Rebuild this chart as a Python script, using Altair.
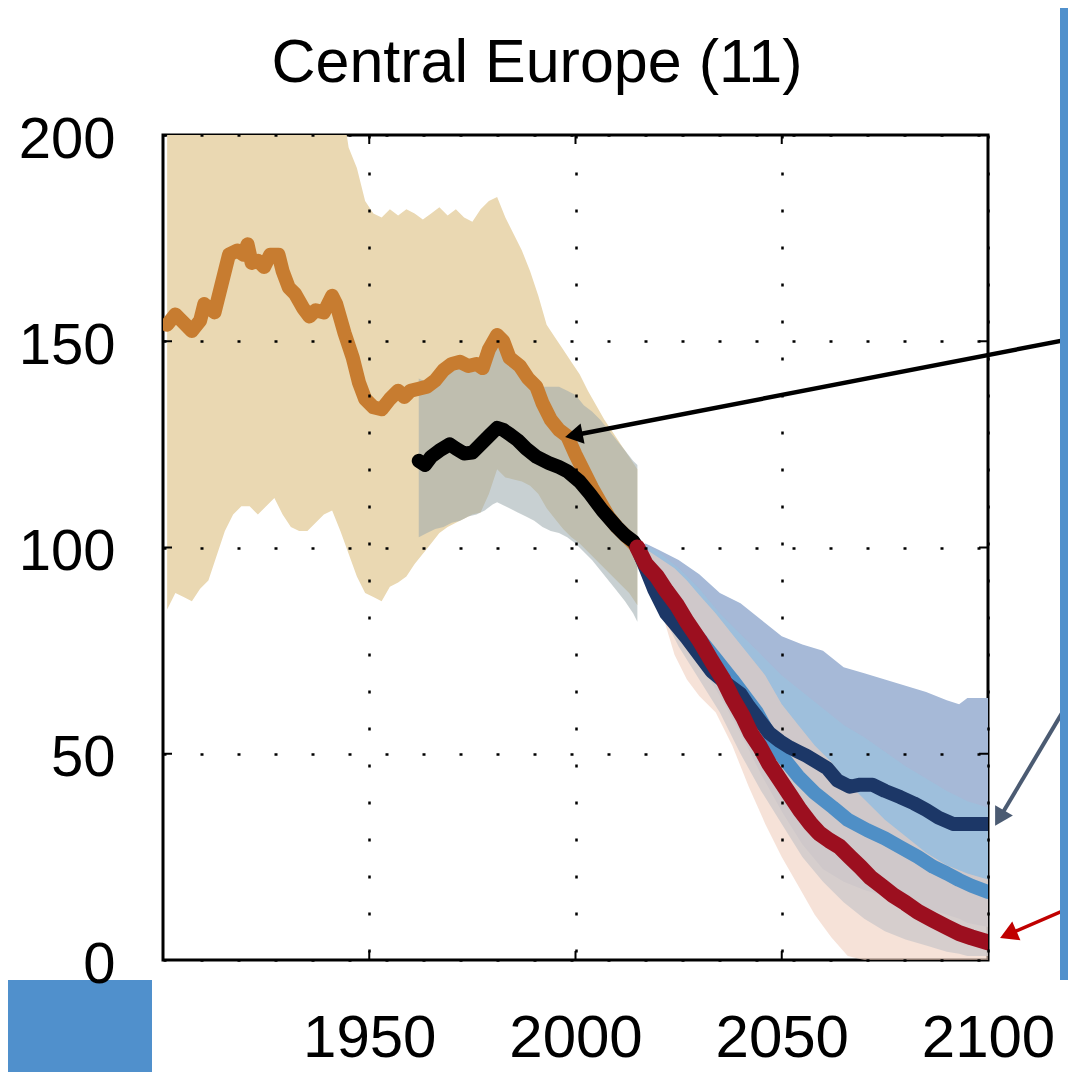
import altair as alt
import pandas as pd

FONT = "Liberation Sans, Arial, Helvetica, sans-serif"
TITLE = "Central Europe (11)"
X_TICKS = [1950, 2000, 2050, 2100]
Y_TICKS = [0, 50, 100, 150, 200]
INNER_X_TICKS = [1950, 2000, 2050]
INNER_Y_TICKS = [50, 100, 150]

# ---- historical reconstruction (orange) ----
orange_years = [1901, 1903, 1904.5, 1907, 1909, 1910, 1912.5, 1914, 1916, 1918, 1919.5, 1920.5, 1921.5,
                1923, 1924.5, 1926, 1928, 1929, 1930.5, 1932, 1934, 1935.5, 1937, 1939, 1941, 1942,
                1944, 1946, 1947.5, 1949, 1951, 1953, 1955, 1957, 1958.5, 1960, 1962, 1964, 1966,
                1968, 1970, 1972, 1974, 1976, 1977.5, 1979, 1981, 1982.5, 1984, 1986.5, 1988.5,
                1990.5, 1992, 1994, 1996, 1998, 2000, 2002, 2004, 2006, 2008, 2010, 2012, 2014, 2015]
orange_vals = [154, 156.5, 155, 152.5, 155, 159, 157, 163, 171, 172, 171, 173.5, 169,
               169.5, 168, 171, 171, 167, 163, 161.5, 158, 156, 157.5, 157, 161, 159,
               152, 146, 140, 136, 134, 133.5, 136, 138, 136.5, 138, 138.5, 139, 140.5,
               143, 144.5, 145, 144, 144.5, 143.5, 148, 151.5, 150, 146, 144, 141,
               139, 135, 131, 128.5, 127, 122.5, 118.5, 114.5, 111, 107.5, 105, 103, 101, 100]

tan_years = [1901, 1903, 1905, 1907, 1909, 1911, 1913, 1915, 1917, 1919, 1921, 1923, 1925, 1927,
             1929, 1931, 1933, 1935, 1937, 1939, 1941, 1943, 1945, 1947, 1949, 1951, 1953, 1955,
             1957, 1959, 1961, 1963, 1965, 1967, 1969, 1971, 1973, 1975, 1977, 1979, 1981, 1983,
             1985, 1987, 1989, 1991, 1993, 1995, 1997, 1999, 2001, 2003, 2005, 2007, 2009, 2011,
             2013, 2015]
tan_hi = [210] * 22 + [197, 192, 184, 181, 180, 182, 180.5, 182, 181, 179.5, 181, 182.5, 180.5,
                       182, 180, 179, 182, 184, 185, 180, 176, 172, 167, 161, 154, 151, 148, 145,
                       142, 138, 134.5, 131, 128, 125, 122, 119]
tan_lo = [85, 89, 88, 87, 90, 92, 98, 104, 108, 110, 110, 108, 110, 112,
          108, 105, 104, 104, 106, 108, 109, 104, 98.5, 93, 89, 88, 87, 90.5,
          91.5, 93, 96, 98.5, 101, 103.5, 105, 106, 107, 108, 108.5, 113, 119, 117,
          116.5, 116, 115, 113, 109.5, 107, 104.5, 102.5, 101, 99, 97, 95, 93, 91,
          89, 86]

# ---- second reconstruction (black) ----
black_years = [1962, 1963.5, 1965, 1967, 1969.5, 1971, 1973, 1975, 1977.5, 1979.5, 1981, 1982.5,
               1984, 1986, 1988, 1990.5, 1993.5, 1996, 1998, 2001, 2003.5, 2006.5, 2010, 2012,
               2014, 2015]
black_vals = [121, 120, 122, 123.5, 125, 124, 122.8, 123, 125.5, 127.5, 129, 128.5,
              127.5, 126, 124, 122, 120.5, 119.5, 118.5, 116, 113, 109, 105, 103,
              101.5, 100]

gray_years = [1962, 1964, 1966, 1968, 1970, 1972, 1974, 1976, 1978, 1980, 1981, 1982, 1984, 1986,
              1988, 1990, 1992, 1994, 1996, 1998, 2000, 2002, 2004, 2006, 2008, 2010, 2012, 2014,
              2015]
gray_hi = [141, 140, 141, 142.5, 143, 144, 144, 144.5, 145, 147, 149, 147.5, 145, 143,
           141, 140, 139, 139, 139, 138, 137, 134.5, 133, 131, 128.5, 126, 123.5, 121, 120]
gray_lo = [102.5, 103.5, 104.5, 105, 106, 106.5, 107.5, 108, 109, 110.5, 111, 110.5, 109.5, 108.5,
           107.5, 106.5, 105, 104, 103.5, 102.5, 101, 99, 97, 94.5, 92, 89.5, 87, 84, 82]

# ---- projections ----
red_years = [2015, 2017, 2019.7, 2022, 2024.6, 2027, 2030, 2033, 2035.8, 2038, 2040.6, 2042.5,
             2044.7, 2047, 2049.6, 2052, 2054.4, 2057, 2059, 2061.5, 2064, 2066.5, 2069, 2071.5,
             2074.5, 2077, 2080, 2083, 2086.7, 2090, 2093, 2096, 2100]
red_vals = [100, 96, 93, 89.5, 86, 82, 77.6, 72.5, 68, 63.5, 59, 55,
            51.7, 47.5, 43.6, 40, 36.4, 33, 30.8, 29, 27.5, 25, 22.6, 20,
            17.7, 15.7, 13.8, 11.7, 9.7, 8, 6.5, 5.5, 4.3]

mid_years = [2015, 2016, 2019, 2022, 2026, 2030, 2034, 2038, 2041, 2044, 2047, 2049.6, 2052,
             2054, 2058, 2062.4, 2066, 2070.7, 2075, 2078.7, 2083, 2086.7, 2090, 2093, 2096, 2100]
mid_vals = [100, 97.5, 92, 88, 83, 78, 73, 68, 64, 60, 54.5, 50, 47,
            44.5, 40.5, 37, 34, 31.5, 29.5, 27.4, 25, 22.6, 21, 19.4, 18, 16.5]

low_years = [2015, 2017, 2019, 2022, 2024.5, 2027, 2030, 2033, 2036, 2040, 2042, 2044.7, 2047,
             2049.6, 2052, 2054, 2056, 2058.5, 2061, 2063.5, 2066.5, 2069, 2072, 2075, 2078.7,
             2082, 2085, 2088, 2091.5, 2095, 2100]
low_vals = [100, 95, 90, 84, 81, 78, 74, 70, 67.5, 64.5, 61.5, 58, 55,
            53, 51.5, 50.5, 49.5, 48, 46.5, 43.5, 42, 42.5, 42.5, 41, 39.5,
            38, 36.4, 34.5, 33, 33, 33]

proj_years = [2015, 2017, 2020, 2025, 2030, 2035, 2040, 2045, 2050, 2055, 2060, 2065, 2070,
              2075, 2080, 2085, 2090, 2093, 2095, 2100]
low_band_hi = [100, 101, 99.5, 97, 93.5, 89, 86.5, 82.5, 78.5, 76.5, 75, 71, 69.5,
               68, 66.5, 65, 63, 62, 63.5, 63.5]
low_band_lo = [100, 95, 88, 79, 72, 64, 55, 45, 36, 28, 22, 19, 17,
               15.5, 14, 12.5, 11, 10, 9, 8]
mid_band_hi = [100, 100.5, 99, 95, 90, 84, 79, 74, 69, 65, 61, 57, 54,
               50.5, 47, 44, 41, 39.5, 38.5, 37]
mid_band_lo = [100, 94, 86, 76, 68, 60, 50, 41, 33, 25, 19, 14, 10,
               7, 5, 3.5, 2, 1.5, 1, 1]

red_band_years = [2015, 2018, 2021, 2024, 2027, 2030, 2034, 2038, 2042, 2046, 2050, 2054, 2058,
                  2062, 2066, 2070, 2075, 2080, 2085, 2090, 2095, 2100]
red_band_hi = [100, 99, 97, 95, 92, 88.5, 84, 79, 74, 69, 62, 57, 52,
               48, 43, 39, 34, 30, 26, 23, 21, 19.5]
red_band_lo = [100, 92, 84, 74, 68, 64, 60, 52, 42, 33, 25, 18, 11,
               5.5, 1, 0, 0, 0, 0, 0, 0, 0]

# ---- annotation arrows (data units) ----
arrow_x = [2121.3, 2121.3, 2121.3]
arrow_y = [150.8, 65.5, 13.3]
arrow_x2 = [1999.6, 2102.8, 2104.9]
arrow_y2 = [127.2, 34.4, 6.2]
arrow_angle = [259, 210, 246.5]
arrow_color = ["#000000", "#4B5B72", "#C00000"]
arrow_width = [4.5, 4, 3.5]

BLUE = "#5090CC"

x_scale = alt.Scale(domain=[1900, 2100], nice=False, zero=False)
y_scale = alt.Scale(domain=[0, 200], nice=False, zero=False)

grid_kw = dict(grid=True, gridDash=[3, 34], gridColor="black", gridWidth=2.5, gridOpacity=1,
               ticks=False, tickSize=0, domain=False, labelFont=FONT, labelColor="black",
               title=None, zindex=1, format="d", labelFlush=False, labelOverlap=False)
x_axis = alt.Axis(values=X_TICKS, labelFontSize=60, labelPadding=96,
                  labelBaseline="alphabetic", **grid_kw)
y_axis = alt.Axis(values=Y_TICKS, labelFontSize=58, labelPadding=48, labelOffset=5, **grid_kw)


def X(field):
    return alt.X(field, type="quantitative", scale=x_scale, axis=x_axis)


def Y(field):
    return alt.Y(field, type="quantitative", scale=y_scale, axis=y_axis)


def band(years, lo, hi, color, opacity):
    df = pd.DataFrame({"year": years, "lo": lo, "hi": hi})
    return alt.Chart(df).mark_area(color=color, opacity=opacity, clip=True).encode(
        x=X("year"), y=Y("hi"), y2="lo")


def line(years, vals, color, width):
    df = pd.DataFrame({"year": years, "value": vals})
    return alt.Chart(df).mark_line(color=color, strokeWidth=width, strokeJoin="round",
                                   strokeCap="round", clip=True).encode(
        x=X("year"), y=Y("value"))


layers = [
    band(tan_years, tan_lo, tan_hi, "#EAD8B2", 1.0),
    band(gray_years, gray_lo, gray_hi, "#9BA9AD", 0.55),
    band(proj_years, low_band_lo, low_band_hi, "#A6B9D7", 1.0),
    band(proj_years, mid_band_lo, mid_band_hi, "#9CC1DD", 0.8),
    band(red_band_years, red_band_lo, red_band_hi, "#F0CFBE", 0.6),
    line(orange_years, orange_vals, "#C77C30", 14),
    line(black_years, black_vals, "#000000", 14),
    line(mid_years, mid_vals, "#4F8FC6", 14),
    line(low_years, low_vals, "#1C3767", 14),
    line(red_years, red_vals, "#9C0F1F", 16),
]

# inward ticks
xt = pd.DataFrame({"year": INNER_X_TICKS})
yt = pd.DataFrame({"value": INNER_Y_TICKS})
layers += [
    alt.Chart(xt).mark_rule(color="black", strokeWidth=2).encode(
        x=X("year"), y=alt.value(825), y2=alt.value(816)),
    alt.Chart(xt).mark_rule(color="black", strokeWidth=2).encode(
        x=X("year"), y=alt.value(0), y2=alt.value(9)),
    alt.Chart(yt).mark_rule(color="black", strokeWidth=2).encode(
        y=Y("value"), x=alt.value(0), x2=alt.value(9)),
    alt.Chart(yt).mark_rule(color="black", strokeWidth=2).encode(
        y=Y("value"), x=alt.value(816), x2=alt.value(825)),
]

arrows = pd.DataFrame({"x": arrow_x, "y": arrow_y, "x2": arrow_x2, "y2": arrow_y2,
                       "angle": arrow_angle, "color": arrow_color, "w": arrow_width})
layers += [
    alt.Chart(arrows).mark_rule().encode(
        x=X("x"), y=Y("y"), x2="x2", y2="y2",
        color=alt.Color("color:N", scale=None),
        strokeWidth=alt.StrokeWidth("w:Q", scale=None)),
    alt.Chart(arrows).mark_point(shape="triangle-up", filled=True, opacity=1, size=420).encode(
        x=X("x2"), y=Y("y2"),
        angle=alt.Angle("angle:Q", scale=None),
        color=alt.Color("color:N", scale=None)),
]

# frame decorations and title
one = pd.DataFrame({"k": [0]})
layers += [
    alt.Chart(one).mark_rect(color=BLUE).encode(
        x=alt.value(897), x2=alt.value(905), y=alt.value(-127), y2=alt.value(845)),
    alt.Chart(one).mark_rect(color=BLUE).encode(
        x=alt.value(-155), x2=alt.value(-11), y=alt.value(845), y2=alt.value(937)),
    alt.Chart(one).mark_text(text=TITLE, font=FONT, fontSize=61, align="center",
                             baseline="alphabetic", color="black").encode(
        x=alt.value(374), y=alt.value(-53)),
]

chart = alt.layer(*layers).properties(
    width=825, height=825, autosize="none",
    padding={"left": 155, "top": 127, "right": 80, "bottom": 112},
    background="white",
).configure_view(stroke="black", strokeWidth=3)

chart.save("out.html", embed_options={"renderer": "svg", "actions": False})
